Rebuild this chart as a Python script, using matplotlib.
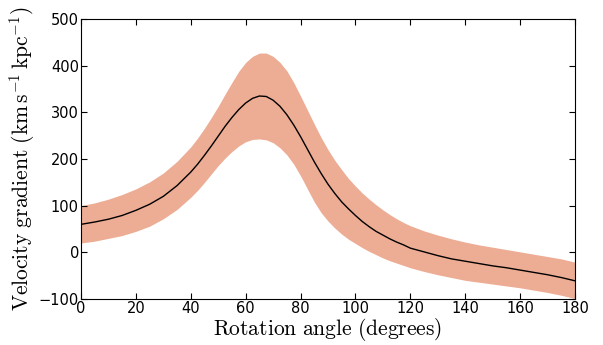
import matplotlib
matplotlib.use("Agg")
import matplotlib.pyplot as plt
import numpy as np

# values
angle = [0, 5, 10, 15, 20, 25, 30, 35, 40, 42.5, 45, 47.5, 50, 52.5, 55, 57.5,
         60, 62.5, 65, 67.5, 70, 72.5, 75, 77.5, 80, 82.5, 85, 87.5, 90, 92.5,
         95, 97.5, 100, 102.5, 105, 107.5, 110, 112.5, 115, 117.5, 120, 125,
         130, 135, 140, 145, 150, 155, 160, 165, 170, 175, 180]
gradient = [60, 65, 71, 79, 90, 103, 120, 143, 172, 189, 208, 228, 249, 270, 289, 306,
            320, 330, 335, 334, 326, 313, 295, 273, 248, 221, 194, 169, 146, 126,
            108, 93, 79, 66, 55, 45, 37, 29, 22, 16, 9, 1,
            -7, -14, -19, -24, -29, -33, -38, -43, -48, -54, -61]
gradient_hi = [100, 106, 114, 124, 136, 151, 170, 195, 226, 245, 266, 289, 313, 339, 364, 388,
               407, 420, 427, 427, 420, 407, 389, 364, 335, 305, 275, 246, 220, 197,
               177, 158, 142, 127, 114, 102, 91, 81, 72, 64, 57, 46,
               37, 29, 22, 16, 11, 6, 1, -4, -9, -14, -21]
gradient_lo = [20, 24, 30, 36, 45, 56, 72, 92, 118, 133, 150, 168, 186, 202, 216, 228,
               237, 242, 243, 241, 235, 224, 209, 189, 164, 136, 108, 85, 67, 52,
               39, 28, 19, 10, 2, -5, -12, -18, -23, -28, -33, -41,
               -48, -54, -60, -64, -68, -72, -76, -81, -86, -92, -99]

xticks = [0, 20, 40, 60, 80, 100, 120, 140, 160, 180]
yticks = [-100, 0, 100, 200, 300, 400, 500]

plt.rcParams['mathtext.fontset'] = 'cm'

fig = plt.figure(figsize=(6.03, 3.45), dpi=100)
ax = fig.add_axes([0.1343, 0.1333, 0.8193, 0.8116])

ax.fill_between(angle, gradient_lo, gradient_hi, color='#edac94', linewidth=0)
ax.plot(angle, gradient, color='k', lw=1.0)

ax.set_xlim(0, 180)
ax.set_ylim(-100, 500)
ax.set_xticks(xticks)
ax.set_yticks(yticks)
ax.tick_params(direction='in', top=True, right=True, length=4, width=0.8,
               labelsize=10.5, pad=1.5)

ax.set_xlabel(r'$\mathrm{Rotation\ angle\ (degrees)}$', fontsize=15.5, labelpad=0)
ax.set_ylabel(r'$\mathrm{Velocity\ gradient\ (km\,s^{-1}\,kpc^{-1})}$', fontsize=15.5, labelpad=1)

fig.savefig('out.png', dpi=100)
